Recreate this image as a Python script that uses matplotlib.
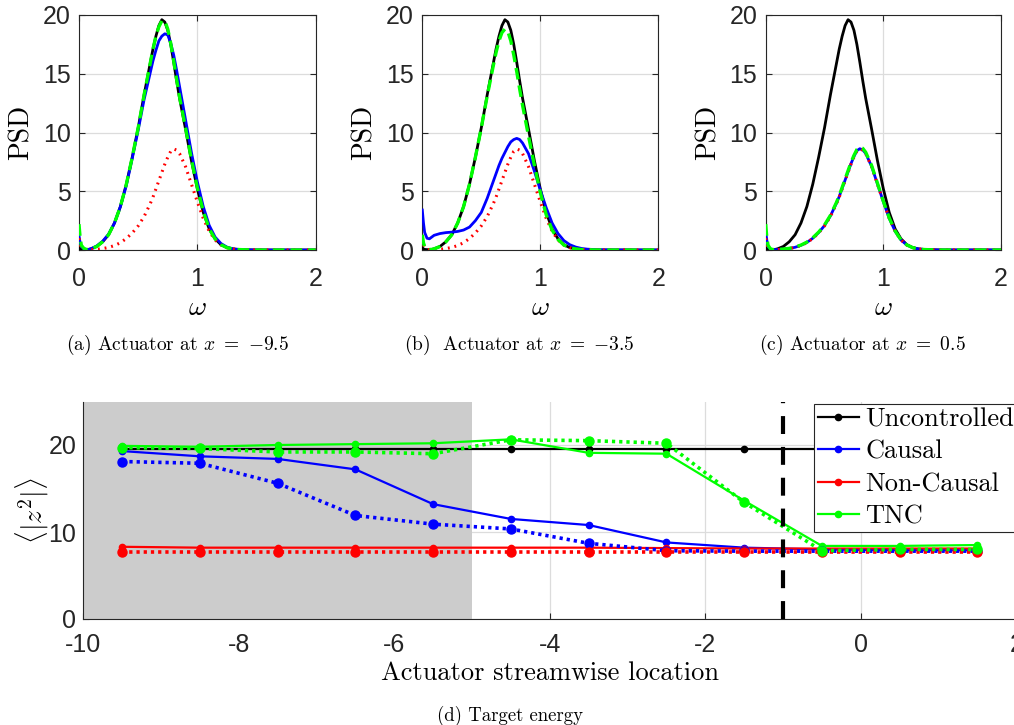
import matplotlib
matplotlib.use("Agg")
import matplotlib.pyplot as plt
from matplotlib.lines import Line2D

plt.rcParams['mathtext.fontset'] = 'cm'
plt.rcParams['axes.unicode_minus'] = False
plt.rcParams['font.family'] = ['Liberation Sans', 'DejaVu Sans']

# ---------------- PSD data ----------------
omega = [0, 0.01, 0.02, 0.04, 0.06, 0.08, 0.1, 0.15, 0.2, 0.25, 0.3, 0.35, 0.4, 0.45,
         0.5, 0.55, 0.6, 0.625, 0.65, 0.675, 0.7, 0.725, 0.75, 0.775, 0.8, 0.825, 0.85,
         0.9, 0.95, 1.0, 1.05, 1.1, 1.15, 1.2, 1.25, 1.3, 1.35, 1.4, 1.5, 1.6, 1.8, 2.0]

psd_uncontrolled = [0.2, 0.1, 0.05, 0.03, 0.03, 0.05, 0.1, 0.3, 0.7, 1.3, 2.3, 3.7, 5.6, 7.9,
                    10.4, 13.2, 15.8, 17.1, 18.2, 19.1, 19.6, 19.4, 18.7, 17.5, 16.0, 14.4, 12.9,
                    10.3, 7.6, 5.2, 3.2, 1.8, 0.95, 0.45, 0.2, 0.09, 0.04, 0.02, 0.0, 0.0, 0.0, 0.0]

psd_noncausal = [1.0, 0.5, 0.2, 0.06, 0.02, 0.02, 0.03, 0.06, 0.12, 0.22, 0.38, 0.62, 0.98, 1.45,
                 2.05, 2.85, 3.9, 4.5, 5.2, 5.9, 6.6, 7.3, 7.9, 8.4, 8.6, 8.5, 8.2,
                 7.1, 5.6, 4.1, 2.7, 1.6, 0.85, 0.42, 0.2, 0.09, 0.04, 0.02, 0.0, 0.0, 0.0, 0.0]

# panel (a): actuator at x = -9.5
psd_causal_a = [1.2, 0.6, 0.3, 0.1, 0.05, 0.05, 0.1, 0.35, 0.75, 1.35, 2.3, 3.7, 5.5, 7.8,
                10.2, 12.8, 15.0, 16.1, 17.0, 17.8, 18.2, 18.4, 18.3, 17.6, 16.6, 15.3, 13.9,
                11.1, 8.3, 5.8, 3.7, 2.1, 1.1, 0.55, 0.25, 0.1, 0.05, 0.02, 0.0, 0.0, 0.0, 0.0]
psd_tnc_a = [2.2, 1.0, 0.4, 0.15, 0.05, 0.05, 0.1, 0.3, 0.7, 1.3, 2.3, 3.7, 5.6, 7.9,
             10.4, 13.2, 15.8, 17.1, 18.2, 19.0, 19.5, 19.5, 18.8, 17.6, 16.1, 14.5, 13.0,
             10.4, 7.7, 5.3, 3.3, 1.8, 0.95, 0.45, 0.2, 0.09, 0.04, 0.02, 0.0, 0.0, 0.0, 0.0]

# panel (b): actuator at x = -3.5
psd_causal_b = [3.4, 2.3, 1.5, 1.0, 0.95, 1.1, 1.25, 1.4, 1.48, 1.52, 1.58, 1.7, 1.95, 2.5,
                3.2, 4.4, 5.8, 6.5, 7.2, 7.8, 8.3, 8.8, 9.2, 9.4, 9.5, 9.4, 9.1,
                8.2, 6.7, 5.1, 3.6, 2.3, 1.4, 0.8, 0.45, 0.25, 0.13, 0.07, 0.02, 0.01, 0.0, 0.0]
psd_tnc_b = [1.3, 0.6, 0.3, 0.1, 0.05, 0.05, 0.1, 0.3, 0.7, 1.3, 2.3, 3.7, 5.6, 7.9,
             10.4, 13.1, 15.6, 16.8, 17.8, 18.5, 18.8, 18.6, 17.8, 16.6, 15.2, 13.7, 12.3,
             9.7, 7.2, 4.9, 3.0, 1.7, 0.9, 0.42, 0.2, 0.09, 0.04, 0.02, 0.0, 0.0, 0.0, 0.0]

# panel (c): actuator at x = 0.5
psd_causal_c = [1.6, 0.8, 0.3, 0.08, 0.03, 0.03, 0.04, 0.07, 0.13, 0.23, 0.4, 0.64, 1.0, 1.48,
                2.08, 2.9, 3.95, 4.55, 5.25, 5.95, 6.65, 7.35, 7.95, 8.45, 8.62, 8.52, 8.22,
                7.12, 5.62, 4.1, 2.7, 1.6, 0.85, 0.42, 0.2, 0.09, 0.04, 0.02, 0.0, 0.0, 0.0, 0.0]
psd_tnc_c = [2.2, 1.0, 0.4, 0.1, 0.04, 0.04, 0.05, 0.08, 0.14, 0.25, 0.42, 0.67, 1.04, 1.52,
             2.13, 2.95, 4.02, 4.63, 5.33, 6.05, 6.75, 7.45, 8.05, 8.55, 8.75, 8.65, 8.32,
             7.2, 5.68, 4.15, 2.74, 1.62, 0.86, 0.43, 0.2, 0.09, 0.04, 0.02, 0.0, 0.0, 0.0, 0.0]

panel_captions = [r'(a) Actuator at $x\ =\ {-9.5}$', r'(b)  Actuator at $x\ =\ {-3.5}$',
                  r'(c) Actuator at $x\ =\ 0.5$']

# ---------------- Target energy data ----------------
act_x = [-9.5, -8.5, -7.5, -6.5, -5.5, -4.5, -3.5, -2.5, -1.5, -0.5, 0.5, 1.5]
uncontrolled = [19.5, 19.5, 19.5, 19.5, 19.5, 19.5, 19.5, 19.5, 19.5, 19.5, 19.5, 19.5]
causal = [19.3, 18.7, 18.4, 17.2, 13.2, 11.5, 10.8, 8.8, 8.2, 8.0, 7.9, 7.9]
causal_dot = [18.1, 17.9, 15.6, 11.9, 10.9, 10.35, 8.7, 7.85, 7.8, 7.8, 7.8, 7.8]
noncausal = [8.3, 8.2, 8.2, 8.2, 8.2, 8.2, 8.2, 8.15, 8.1, 8.1, 8.1, 8.1]
noncausal_dot = [7.75, 7.75, 7.75, 7.75, 7.75, 7.75, 7.75, 7.75, 7.75, 7.75, 7.75, 7.75]
tnc = [19.9, 19.8, 20.0, 20.1, 20.2, 20.65, 19.1, 19.0, 13.6, 8.4, 8.4, 8.5]
tnc_dot = [19.7, 19.6, 19.2, 19.2, 19.0, 20.6, 20.5, 20.2, 13.4, 7.85, 8.0, 8.0]
legend_labels = ['Uncontrolled', 'Causal', 'Non-Causal', 'TNC']
shade_range = (-10, -5)
target_x = -1

W, H = 1014, 725
fig = plt.figure(figsize=(W / 100, H / 100), dpi=100)

def fx(px):
    return px / W

def fy(py):
    return 1 - py / H

SPINE = '#262626'
GRID = '#dcdcdc'
serif = 'cmr10'

top_lefts = [79, 422.3, 765.7]
top_widths = [236.7, 236.0, 235.3]
cap_x = [177.5, 519.5, 862.5]
causal_sets = [psd_causal_a, psd_causal_b, psd_causal_c]
tnc_sets = [psd_tnc_a, psd_tnc_b, psd_tnc_c]

for i in range(3):
    ax = fig.add_axes([fx(top_lefts[i]), fy(250), top_widths[i] / W, 235 / H])
    ax.plot(omega, psd_uncontrolled, color='black', lw=2.0, zorder=3)
    ax.plot(omega, causal_sets[i], color='#0000ff', lw=2.0, zorder=4)
    ax.plot(omega, psd_noncausal, color='#ff0000', lw=2.2, ls=(0, (0.6, 1.6)),
            dash_capstyle='butt', zorder=5)
    ax.plot(omega, tnc_sets[i], color='#00ff00', lw=2.4, ls=(0, (3.5, 1.8)), zorder=6)
    ax.set_xlim(0, 2)
    ax.set_ylim(0, 20)
    ax.set_xticks([0, 1, 2])
    ax.set_yticks([0, 5, 10, 15, 20])
    ax.grid(True, color=GRID, lw=0.9)
    ax.set_axisbelow(True)
    ax.tick_params(direction='in', length=4, width=0.8, colors=SPINE, labelsize=18,
                   top=True, right=True, pad=6)
    ax.tick_params(axis='x', pad=12)
    for s in ax.spines.values():
        s.set_color(SPINE)
        s.set_linewidth(0.8)
    ax.set_ylabel('PSD', family=serif, fontsize=20, labelpad=6)
    ax.set_xlabel(r'$\omega$', fontsize=20, labelpad=3)
    fig.text(fx(cap_x[i]), fy(345), panel_captions[i], family=serif, fontsize=14,
             ha='center', va='center')

# ---------------- bottom panel ----------------
axb = fig.add_axes([fx(83.3), fy(619), (1016.3 - 83.3) / W, 217.5 / H])
axb.axvspan(shade_range[0], shade_range[1], color='#cccccc', lw=0, zorder=1)
ms_s, ms_d = 4.5, 6.5
axb.plot(act_x, uncontrolled, color='black', lw=1.6, marker='o', ms=ms_s, zorder=3)
axb.plot(act_x, causal, color='#0000ff', lw=1.6, marker='o', ms=ms_s, zorder=3)
axb.plot(act_x, noncausal, color='#ff0000', lw=1.6, marker='o', ms=ms_s, zorder=3)
axb.plot(act_x, tnc, color='#00ff00', lw=1.6, marker='o', ms=ms_s, zorder=3)
axb.plot(act_x, causal_dot, color='#0000ff', lw=2.6, ls=(0, (0.9, 1.1)), marker='o', ms=ms_d, zorder=4)
axb.plot(act_x, noncausal_dot, color='#ff0000', lw=2.6, ls=(0, (0.9, 1.1)), marker='o', ms=ms_d, zorder=4)
axb.plot(act_x, tnc_dot, color='#00ff00', lw=2.6, ls=(0, (0.9, 1.1)), marker='o', ms=ms_d, zorder=4)
axb.axvline(target_x, color='black', lw=3, ls=(0, (4.3, 3.1)), zorder=5)
axb.set_xlim(-10, 2)
axb.set_ylim(0, 25)
axb.set_xticks([-10, -8, -6, -4, -2, 0, 2])
axb.set_yticks([0, 10, 20])
axb.grid(True, color=GRID, lw=0.9)
axb.set_axisbelow(True)
axb.spines['top'].set_visible(False)
axb.spines['right'].set_visible(False)
for s in ['left', 'bottom']:
    axb.spines[s].set_color(SPINE)
    axb.spines[s].set_linewidth(0.8)
axb.tick_params(direction='in', length=4, width=0.8, colors=SPINE, labelsize=18, pad=5)
axb.tick_params(axis='x', pad=10)
axb.set_xlabel('Actuator streamwise location', family=serif, fontsize=19, labelpad=3)
axb.set_ylabel(r'$\langle |z^2| \rangle$', fontsize=20, labelpad=-2)

handles = [Line2D([], [], color=c, lw=1.6, marker='o', ms=ms_s)
           for c in ['black', '#0000ff', '#ff0000', '#00ff00']]
leg = axb.legend(handles, legend_labels, loc='upper left',
                 bbox_to_anchor=(fx(814), fy(403.5)), bbox_transform=fig.transFigure,
                 frameon=True, fancybox=False, framealpha=1, edgecolor=SPINE,
                 borderaxespad=0, prop={'family': serif, 'size': 19},
                 handlelength=1.55, handletextpad=0.25, labelspacing=0.33, borderpad=0.15)
leg.get_frame().set_linewidth(0.8)
leg.set_zorder(10)

fig.text(fx(510), fy(716), '(d) Target energy', family=serif, fontsize=13.5,
         ha='center', va='center')

fig.savefig('out.png', dpi=100)
